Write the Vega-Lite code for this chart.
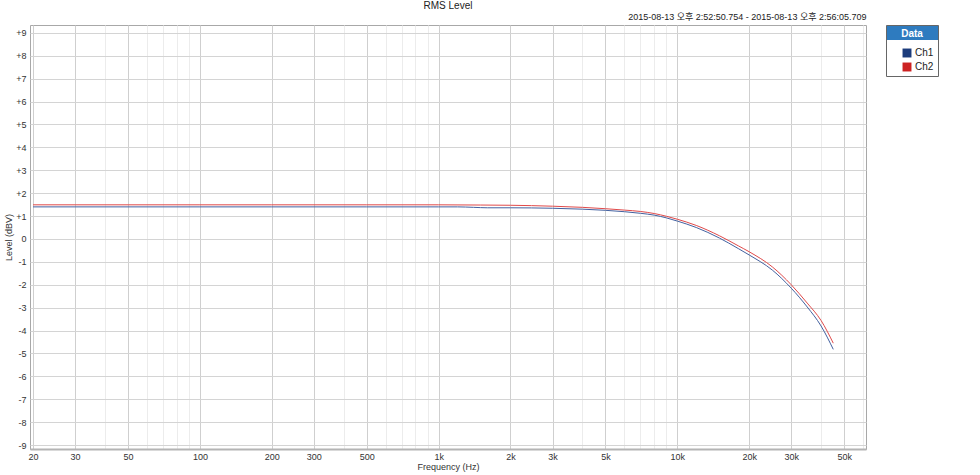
{
  "$schema": "https://vega.github.io/schema/vega-lite/v6.json",
  "width": 836,
  "height": 424,
  "autosize": {"type": "none"},
  "padding": {"left": 30, "top": 25, "right": 114, "bottom": 26},
  "background": "white",
  "title": {"text": "RMS Level", "anchor": "middle", "frame": "group", "fontSize": 10, "fontWeight": "normal", "font": "Liberation Sans", "color": "#222222", "offset": 1},
  "config": {"view": {"stroke": "#a8a8a8", "strokeWidth": 1}, "font": "Liberation Sans"},
  "data": {"values": [
    {"freq": 20, "level": 1.40, "ch": "Ch1"},
    {"freq": 30, "level": 1.40, "ch": "Ch1"},
    {"freq": 50, "level": 1.40, "ch": "Ch1"},
    {"freq": 100, "level": 1.40, "ch": "Ch1"},
    {"freq": 200, "level": 1.40, "ch": "Ch1"},
    {"freq": 500, "level": 1.40, "ch": "Ch1"},
    {"freq": 1000, "level": 1.40, "ch": "Ch1"},
    {"freq": 1200, "level": 1.40, "ch": "Ch1"},
    {"freq": 1400, "level": 1.38, "ch": "Ch1"},
    {"freq": 1600, "level": 1.36, "ch": "Ch1"},
    {"freq": 2000, "level": 1.36, "ch": "Ch1"},
    {"freq": 3000, "level": 1.34, "ch": "Ch1"},
    {"freq": 4000, "level": 1.30, "ch": "Ch1"},
    {"freq": 5000, "level": 1.25, "ch": "Ch1"},
    {"freq": 6000, "level": 1.19, "ch": "Ch1"},
    {"freq": 7000, "level": 1.12, "ch": "Ch1"},
    {"freq": 8000, "level": 1.04, "ch": "Ch1"},
    {"freq": 9000, "level": 0.92, "ch": "Ch1"},
    {"freq": 10000, "level": 0.78, "ch": "Ch1"},
    {"freq": 12000, "level": 0.50, "ch": "Ch1"},
    {"freq": 15000, "level": 0.04, "ch": "Ch1"},
    {"freq": 18000, "level": -0.42, "ch": "Ch1"},
    {"freq": 20000, "level": -0.70, "ch": "Ch1"},
    {"freq": 25000, "level": -1.36, "ch": "Ch1"},
    {"freq": 30000, "level": -2.15, "ch": "Ch1"},
    {"freq": 35000, "level": -2.97, "ch": "Ch1"},
    {"freq": 40000, "level": -3.80, "ch": "Ch1"},
    {"freq": 45000, "level": -4.82, "ch": "Ch1"},
    {"freq": 20, "level": 1.49, "ch": "Ch2"},
    {"freq": 30, "level": 1.49, "ch": "Ch2"},
    {"freq": 50, "level": 1.49, "ch": "Ch2"},
    {"freq": 100, "level": 1.49, "ch": "Ch2"},
    {"freq": 200, "level": 1.49, "ch": "Ch2"},
    {"freq": 500, "level": 1.49, "ch": "Ch2"},
    {"freq": 1000, "level": 1.49, "ch": "Ch2"},
    {"freq": 1500, "level": 1.48, "ch": "Ch2"},
    {"freq": 2000, "level": 1.47, "ch": "Ch2"},
    {"freq": 3000, "level": 1.43, "ch": "Ch2"},
    {"freq": 4000, "level": 1.38, "ch": "Ch2"},
    {"freq": 5000, "level": 1.32, "ch": "Ch2"},
    {"freq": 6000, "level": 1.26, "ch": "Ch2"},
    {"freq": 7000, "level": 1.20, "ch": "Ch2"},
    {"freq": 8000, "level": 1.11, "ch": "Ch2"},
    {"freq": 9000, "level": 0.99, "ch": "Ch2"},
    {"freq": 10000, "level": 0.86, "ch": "Ch2"},
    {"freq": 12000, "level": 0.59, "ch": "Ch2"},
    {"freq": 15000, "level": 0.14, "ch": "Ch2"},
    {"freq": 18000, "level": -0.30, "ch": "Ch2"},
    {"freq": 20000, "level": -0.56, "ch": "Ch2"},
    {"freq": 25000, "level": -1.22, "ch": "Ch2"},
    {"freq": 30000, "level": -2.00, "ch": "Ch2"},
    {"freq": 35000, "level": -2.80, "ch": "Ch2"},
    {"freq": 40000, "level": -3.56, "ch": "Ch2"},
    {"freq": 45000, "level": -4.55, "ch": "Ch2"}
  ]},
  "resolve": {"axis": {"x": "independent"}},
  "encoding": {
    "y": {
      "field": "level", "type": "quantitative",
      "scale": {"domain": [-9.17, 9.34], "nice": false, "zero": false},
      "axis": {
        "values": [-9,-8,-7,-6,-5,-4,-3,-2,-1,0,1,2,3,4,5,6,7,8,9],
        "labelExpr": "datum.value > 0 ? '+' + datum.value : '' + datum.value",
        "labelOverlap": false,
        "labelFlush": false,
        "labelBound": false,
        "grid": true,
        "gridColor": "#d4d4d4",
        "ticks": false,
        "domain": false,
        "labelFontSize": 9,
        "labelColor": "#333333",
        "labelPadding": 4,
        "title": "Level (dBV)",
        "titleFontSize": 9,
        "titleFontWeight": "normal",
        "titleColor": "#333333",
        "titlePadding": 2
      }
    }
  },
  "layer": [
    {
      "mark": {"type": "square", "size": 0, "filled": true},
      "encoding": {
        "x": {
          "field": "freq", "type": "quantitative",
          "scale": {"type": "log", "domain": [19.42, 61700], "nice": false},
          "axis": {
            "orient": "bottom",
            "values": [20,30,40,50,60,70,80,90,100,200,300,400,500,600,700,800,900,1000,2000,3000,4000,5000,6000,7000,8000,9000,10000,20000,30000,40000,50000,60000],
            "labelExpr": "indexof([20,30,50,100,200,300,500,1000,2000,3000,5000,10000,20000,30000,50000], datum.value) >= 0 ? (datum.value >= 1000 ? (datum.value / 1000) + 'k' : '' + datum.value) : ''",
            "gridColor": {"condition": {"test": "indexof([20,30,50,100,200,300,500,1000,2000,3000,5000,10000,20000,30000,50000], datum.value) >= 0", "value": "#cfcfcf"}, "value": "#ececec"},
            "grid": true,
            "ticks": false,
            "domain": true,
            "domainColor": "#b4b4b4",
            "domainWidth": 2,
            "labelOverlap": false,
            "labelFlush": false,
            "labelBound": false,
            "labelFontSize": 9,
            "labelColor": "#333333",
            "labelPadding": 3,
            "title": "Frequency (Hz)",
            "titleFontSize": 9,
            "titleFontWeight": "normal",
            "titleColor": "#333333",
            "titlePadding": 1
          }
        },
        "fill": {
          "field": "ch", "type": "nominal",
          "scale": {"domain": ["Ch1", "Ch2"], "range": ["#1c3c7c", "#cc2222"]},
          "legend": {
            "title": "Data",
            "orient": "right",
            "offset": 20,
            "padding": 4,
            "fillColor": {"value": {"gradient": "linear", "x1": 0, "y1": 0, "x2": 0, "y2": 1, "stops": [{"offset": 0, "color": "#2e7bbf"}, {"offset": 0.29, "color": "#2e7bbf"}, {"offset": 0.29, "color": "#ffffff"}, {"offset": 1, "color": "#ffffff"}]}},
            "strokeColor": "#666666",
            "titleAnchor": "middle",
            "titleColor": "#ffffff",
            "titleFontSize": 10,
            "titleFontWeight": "bold",
            "titlePadding": 9,
            "symbolType": "square",
            "symbolSize": 80,
            "symbolStrokeWidth": 0,
            "symbolOpacity": 1,
            "symbolOffset": 12,
            "labelOffset": 3,
            "labelFontSize": 10,
            "labelColor": "#222222",
            "rowPadding": 4
          }
        }
      }
    },
    {
      "mark": {"type": "line", "strokeWidth": 1, "interpolate": "monotone", "clip": true},
      "encoding": {
        "x": {
          "field": "freq", "type": "quantitative",
          "scale": {"type": "log", "domain": [19.42, 61700], "nice": false},
          "axis": {
            "orient": "top",
            "labels": false, "ticks": false, "domain": false, "grid": false,
            "title": "2015-08-13 오후 2:52:50.754 - 2015-08-13 오후 2:56:05.709",
            "titleFont": "Liberation Sans, Noto Sans CJK KR",
            "titleAnchor": "end",
            "titleFontSize": 9,
            "titleFontWeight": "normal",
            "titleColor": "#222222",
            "titlePadding": 4
          }
        },
        "stroke": {
          "field": "ch", "type": "nominal",
          "scale": {"domain": ["Ch1", "Ch2"], "range": ["#4361a0", "#e04a4a"]},
          "legend": null
        }
      }
    }
  ]
}
